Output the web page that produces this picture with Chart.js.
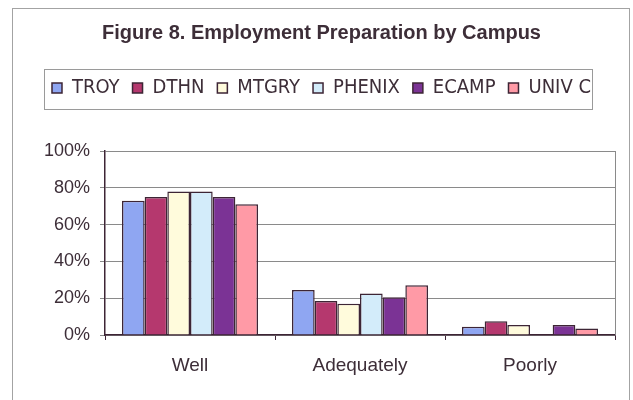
<!DOCTYPE html>
<html>
<head>
<meta charset="utf-8">
<script src="https://cdn.jsdelivr.net/npm/chart.js@4.4.1/dist/chart.umd.min.js"></script>
<style>
html, body { margin: 0; padding: 0; background: #fff; }
#wrap { width: 633px; height: 400px; }
</style>
</head>
<body>
<div id="wrap"><canvas id="chart" width="633" height="400"></canvas></div>
<script>
// Employment preparation, percent of respondents per campus
const categories = ['Well', 'Adequately', 'Poorly'];
const campuses = ['TROY', 'DTHN', 'MTGRY', 'PHENIX', 'ECAMP', 'UNIV C'];
const troy   = [73, 24.5, 4.5];
const dthn   = [75, 18.5, 7.5];
const mtgry  = [78, 17, 5.5];
const phenix = [78, 22.5, 0];
const ecamp  = [75, 20.5, 5.5];
const univc  = [71, 27, 3.5];
const yTicks = [0, 20, 40, 60, 80, 100];

const seriesValues = [troy, dthn, mtgry, phenix, ecamp, univc];
const fillColors = ['#8fa6f2', '#b5386e', '#fffbdc', '#d3ecfa', '#7b3395', '#ff9aa6'];
const edgeColor = '#3d2535';
const textColor = '#3d2e38';

Chart.defaults.font.family = "'Liberation Sans', Arial, sans-serif";
Chart.defaults.color = textColor;

// outer frame around the whole chart
const framePlugin = {
    id: 'frame',
    beforeDraw(chart) {
        const ctx = chart.ctx;
        ctx.save();
        ctx.fillStyle = '#fff';
        ctx.fillRect(0, 0, chart.width, chart.height);
        ctx.strokeStyle = '#a3a3a3';
        ctx.lineWidth = 1;
        ctx.strokeRect(12.5, 8.5, 617, 410);
        ctx.restore();
    }
};

// box around the legend + right edge of plot area
const boxesPlugin = {
    id: 'boxes',
    afterDraw(chart) {
        const ctx = chart.ctx;
        const hb = chart.legend.legendHitBoxes;
        ctx.save();
        if (hb && hb.length) {
            const left = Math.min(...hb.map(b => b.left)) - 8;
            const right = Math.max(...hb.map(b => b.left + b.width)) + 1;
            const cy = hb[0].top + hb[0].height / 2;
            ctx.strokeStyle = '#9a9a9a';
            ctx.lineWidth = 1;
            ctx.strokeRect(Math.round(left) + 0.5, Math.round(cy - 19) + 0.5,
                Math.round(right - left), 40);
        }
        const a = chart.chartArea;
        ctx.strokeStyle = '#8a8a8a';
        ctx.beginPath();
        ctx.moveTo(Math.round(a.right) + 0.5, a.top);
        ctx.lineTo(Math.round(a.right) + 0.5, a.bottom);
        ctx.stroke();
        ctx.restore();
    }
};

const datasets = campuses.map((name, i) => ({
    label: name,
    data: seriesValues[i],
    backgroundColor: fillColors[i],
    borderColor: edgeColor,
    borderWidth: 1.5,
    borderSkipped: 'bottom',
    categoryPercentage: 0.8,
    barPercentage: 1.0
}));

const chart = new Chart(document.getElementById('chart'), {
    type: 'bar',
    data: { labels: categories, datasets: datasets },
    plugins: [framePlugin, boxesPlugin],
    options: {
        responsive: false,
        animation: false,
        layout: { padding: { left: 12, right: 2, top: 0, bottom: 0 } },
        plugins: {
            title: {
                display: true,
                text: 'Figure 8. Employment Preparation by Campus',
                color: textColor,
                font: { size: 20, weight: 'bold' },
                padding: { top: 21, bottom: 20 }
            },
            legend: {
                display: true,
                position: 'top',
                labels: {
                    boxWidth: 10,
                    boxHeight: 10,
                    padding: 13,
                    color: textColor,
                    font: { size: 20, family: "'DejaVu Sans Condensed', 'Liberation Sans', sans-serif" },
                    generateLabels(c) {
                        return c.data.datasets.map((ds, i) => ({
                            text: ds.label,
                            fillStyle: ds.backgroundColor,
                            strokeStyle: edgeColor,
                            lineWidth: 1.5,
                            fontColor: textColor,
                            datasetIndex: i
                        }));
                    }
                }
            },
            tooltip: { enabled: false }
        },
        scales: {
            x: {
                grid: { display: true, drawOnChartArea: false, drawTicks: true, tickLength: 5, color: edgeColor, offset: true },
                border: { display: true, color: edgeColor, width: 1.5 },
                ticks: { font: { size: 19 }, color: textColor, padding: 14 },
                afterFit(s) { s.height = 65; }
            },
            gap: {
                type: 'linear',
                position: 'top',
                display: true,
                grid: { display: false },
                border: { display: false },
                ticks: { display: false },
                afterFit(s) { s.height = 43; }
            },
            y: {
                min: 0,
                max: 100,
                afterBuildTicks(s) { s.ticks = yTicks.map(v => ({ value: v })); },
                grid: { color: '#8a8a8a', lineWidth: 1, drawTicks: true, tickLength: 5 },
                border: { display: true, color: edgeColor, width: 1.5 },
                ticks: {
                    font: { size: 18 },
                    color: textColor,
                    padding: 10,
                    callback: v => v + '%'
                },
                afterFit(s) { s.width = 93; }
            },
            pad: {
                type: 'linear',
                position: 'right',
                display: true,
                grid: { display: false },
                border: { display: false },
                ticks: { display: false },
                afterFit(s) { s.width = 16; }
            }
        }
    }
});
</script>
</body>
</html>
